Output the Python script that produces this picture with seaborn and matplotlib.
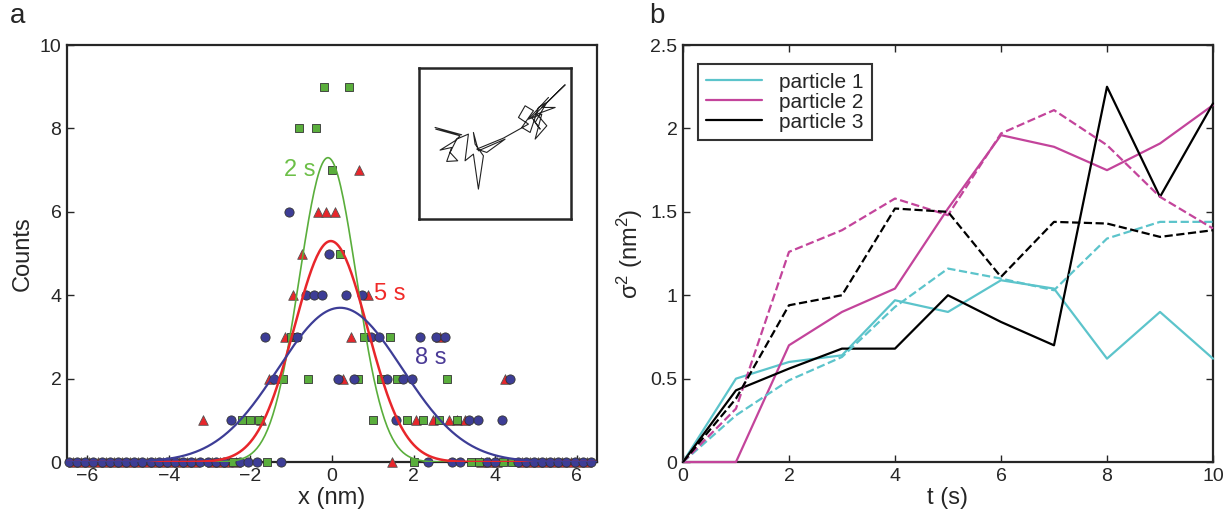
import numpy as np
import pandas as pd
import seaborn as sns
import matplotlib.pyplot as plt

sns.set_style('ticks')
plt.rcParams['font.family'] = ['Liberation Sans', 'DejaVu Sans']
plt.rcParams['mathtext.fontset'] = 'custom'
plt.rcParams['mathtext.rm'] = 'Liberation Sans'
plt.rcParams['mathtext.it'] = 'Liberation Sans'

# ---- panel a: histogram counts (bin position in nm, count) ----
green_x = [-0.2, 0.42, -0.81, -0.4, 0.0, 0.2, -1.01, -0.89, 0.79, 1.41,
           -1.21, -0.59, 0.64, 1.21, 1.6, 2.81,
           -2.22, -2.0, -1.8, 1.01, 1.83, 2.22, 2.62, 3.06,
           -2.42, -1.6, 2.02, 3.42, 3.61, 4.19, 4.41]
green_n = [9, 9, 8, 8, 7, 5, 3, 3, 3, 3,
           2, 2, 2, 2, 2, 2,
           1, 1, 1, 1, 1, 1, 1, 1,
           0, 0, 0, 0, 0, 0, 0]

red_x = [0.67, -0.35, -0.15, 0.07, -0.74, -0.95, 0.88, -1.16, 0.47, 2.65,
         -1.55, 0.27, 4.25, -3.16, -1.73, 2.05, 2.47, 2.86, 3.06, 3.26,
         -6.35, -6.15, -5.95, -5.75, -5.55, -5.35, -5.15, -4.95, -4.75, -4.55,
         -4.35, -4.15, -3.95, -3.75, -3.55, -3.35, -2.95, -2.75, -2.55, -2.35,
         1.47, 3.65, 3.85, 4.05, 4.65, 4.85, 5.05, 5.25, 5.45, 5.65, 5.85,
         6.05, 6.25]
red_n = [7, 6, 6, 6, 5, 4, 4, 3, 3, 3,
         2, 2, 2, 1, 1, 1, 1, 1, 1, 1,
         0, 0, 0, 0, 0, 0, 0, 0, 0, 0,
         0, 0, 0, 0, 0, 0, 0, 0, 0, 0,
         0, 0, 0, 0, 0, 0, 0, 0, 0, 0, 0,
         0, 0]

blue_x = [-1.06, -0.07, -0.64, -0.44, -0.25, 0.35, 0.74,
          -1.65, -0.86, 0.96, 1.16, 2.15, 2.54, 2.77,
          -1.43, 0.15, 0.54, 1.36, 1.75, 1.97, 4.37,
          -2.47, 1.56, 3.36, 3.58, 4.17,
          -6.45, -6.25, -6.05, -5.85, -5.65, -5.45, -5.25, -5.05, -4.85, -4.65,
          -4.45, -4.25, -4.05, -3.85, -3.65, -3.45, -3.25, -3.05, -2.85, -2.65,
          -2.25, -2.05, -1.85, -1.25, 2.35, 2.95, 3.15, 3.8, 4.0, 4.55, 4.75,
          4.95, 5.15, 5.35, 5.55, 5.75, 5.95, 6.15, 6.35]
blue_n = [6, 5, 4, 4, 4, 4, 4,
          3, 3, 3, 3, 3, 3, 3,
          2, 2, 2, 2, 2, 2, 2,
          1, 1, 1, 1, 1,
          0, 0, 0, 0, 0, 0, 0, 0, 0, 0,
          0, 0, 0, 0, 0, 0, 0, 0, 0, 0,
          0, 0, 0, 0, 0, 0, 0, 0, 0, 0, 0,
          0, 0, 0, 0, 0, 0, 0, 0]

# gaussian fits: amplitude, centre (nm), width (nm)
fit_labels = ['2 s', '5 s', '8 s']
fit_amp = [7.3, 5.3, 3.7]
fit_mu = [-0.1, -0.03, 0.2]
fit_sigma = [0.7, 0.9, 1.52]

# inset trajectory (arbitrary units)
traj_x = [60, 140, 62, 135, 120, 75, 110, 95, 128, 105, 125, 160, 150, 175, 190,
          205, 180, 175, 190, 270, 215, 185, 265, 340, 310, 330, 355, 320, 345,
          370, 395, 360, 375, 350, 450, 380, 420, 365, 395, 360, 380, 340, 400]
traj_y = [190, 212, 195, 215, 230, 258, 250, 292, 290, 265, 225, 210, 290, 270, 375,
          275, 240, 205, 260, 225, 265, 255, 222, 180, 160, 125, 140, 190, 205,
          130, 115, 175, 195, 160, 62, 130, 130, 150, 185, 225, 150, 165, 100]

# ---- panel b: variance vs time ----
t = [0, 1, 2, 3, 4, 5, 6, 7, 8, 9, 10]
p1_solid = [0, 0.50, 0.60, 0.64, 0.97, 0.90, 1.09, 1.04, 0.62, 0.90, 0.62]
p1_dash = [0, 0.28, 0.49, 0.63, 0.93, 1.16, 1.10, 1.03, 1.34, 1.44, 1.44]
p2_solid = [0, 0.0, 0.70, 0.90, 1.04, 1.52, 1.96, 1.89, 1.75, 1.91, 2.14]
p2_dash = [0, 0.32, 1.26, 1.39, 1.58, 1.48, 1.97, 2.11, 1.90, 1.59, 1.40]
p3_solid = [0, 0.43, 0.56, 0.68, 0.68, 1.00, 0.84, 0.70, 2.25, 1.59, 2.15]
p3_dash = [0, 0.38, 0.94, 1.00, 1.52, 1.50, 1.11, 1.44, 1.43, 1.35, 1.39]

green = '#5aae3c'
red = '#e8262b'
blue = '#3d3d96'
cyan = '#5cc4cb'
magenta = '#c3449b'

fig = plt.figure(figsize=(12.27, 5.18), dpi=100)
ax1 = fig.add_axes([0.0546, 0.108, 0.432, 0.805])
ax2 = fig.add_axes([0.5566, 0.108, 0.432, 0.805])

df_g = pd.DataFrame({'x': green_x, 'n': green_n})
df_r = pd.DataFrame({'x': red_x, 'n': red_n})
df_b = pd.DataFrame({'x': blue_x, 'n': blue_n})

sns.scatterplot(data=df_r, x='x', y='n', ax=ax1, marker='^', color=red,
                s=48, edgecolor='#555555', linewidth=0.6, zorder=3, clip_on=False)
sns.scatterplot(data=df_g, x='x', y='n', ax=ax1, marker='s', color=green,
                s=32, edgecolor='#333333', linewidth=0.6, zorder=3, clip_on=False)
sns.scatterplot(data=df_b, x='x', y='n', ax=ax1, marker='o', color=blue,
                s=44, edgecolor='#333333', linewidth=0.6, zorder=3, clip_on=False)

xs = np.linspace(-6.5, 6.5, 400)
fit_colors = [green, red, blue]
fit_lw = [1.2, 1.8, 1.6]
for a, m, s_, c, lw in zip(fit_amp, fit_mu, fit_sigma, fit_colors, fit_lw):
    ys = a * np.exp(-(xs - m) ** 2 / (2 * s_ ** 2))
    sns.lineplot(x=xs, y=ys, ax=ax1, color=c, lw=lw, zorder=4)

ax1.text(-0.8, 7.0, fit_labels[0], color='#6cbf47', fontsize=17, ha='center', va='center')
ax1.text(1.42, 4.02, fit_labels[1], color='#f02a28', fontsize=17, ha='center', va='center')
ax1.text(2.42, 2.5, fit_labels[2], color='#4a3a96', fontsize=17, ha='center', va='center')

ax1.set_xlim(-6.5, 6.5)
ax1.set_ylim(0, 10)
ax1.set_xticks([-6, -4, -2, 0, 2, 4, 6])
ax1.set_yticks([0, 2, 4, 6, 8, 10])
ax1.set_xlabel('x (nm)', fontsize=17, labelpad=2)
ax1.set_ylabel('Counts', fontsize=17, labelpad=4)
ax1.tick_params(direction='in', labelsize=14, length=5, width=1, pad=4)

# inset with trajectory
axi = fig.add_axes([0.3415, 0.577, 0.124, 0.2915])
sns.lineplot(x=traj_x, y=traj_y, ax=axi, sort=False, estimator=None,
             color='#222222', lw=0.8)
axi.set_xlim(12, 468)
axi.set_ylim(465, 12)
axi.set_xticks([])
axi.set_yticks([])
axi.set_xlabel('')
axi.set_ylabel('')
for sp in axi.spines.values():
    sp.set_linewidth(1.8)

# panel b
for ys, c, ls, lab in [(p1_solid, cyan, '-', 'particle 1'),
                       (p2_solid, magenta, '-', 'particle 2'),
                       (p3_solid, 'black', '-', 'particle 3'),
                       (p1_dash, cyan, '--', None),
                       (p2_dash, magenta, '--', None),
                       (p3_dash, 'black', '--', None)]:
    sns.lineplot(x=t, y=ys, ax=ax2, color=c, lw=1.6, linestyle=ls, label=lab,
                 clip_on=False, zorder=3)

ax2.set_xlim(0, 10)
ax2.set_ylim(0, 2.5)
ax2.set_xticks([0, 2, 4, 6, 8, 10])
ax2.set_yticks([0, 0.5, 1, 1.5, 2, 2.5])
ax2.set_yticklabels(['0', '0.5', '1', '1.5', '2', '2.5'])
ax2.set_xlabel('t (s)', fontsize=17, labelpad=2)
ax2.set_ylabel(r'$\mathregular{\sigma^2\ (nm^2)}$', fontsize=17, labelpad=4)
ax2.tick_params(direction='in', labelsize=14, length=5, width=1, pad=4,
                top=True, right=True)
leg = ax2.legend(loc='upper left', bbox_to_anchor=(0.028, 0.954), fontsize=15,
                 frameon=True, fancybox=False, edgecolor='black', borderaxespad=0,
                 handlelength=2.7, handletextpad=0.8, borderpad=0.4,
                 labelspacing=0.05)
leg.get_frame().set_linewidth(1.5)
leg.set_zorder(5)

for ax in (ax1, ax2):
    for sp in ax.spines.values():
        sp.set_linewidth(1.6)

fig.text(0.008, 0.995, 'a', fontsize=20, va='top')
fig.text(0.529, 0.995, 'b', fontsize=20, va='top')

fig.savefig('out.png', dpi=100)
